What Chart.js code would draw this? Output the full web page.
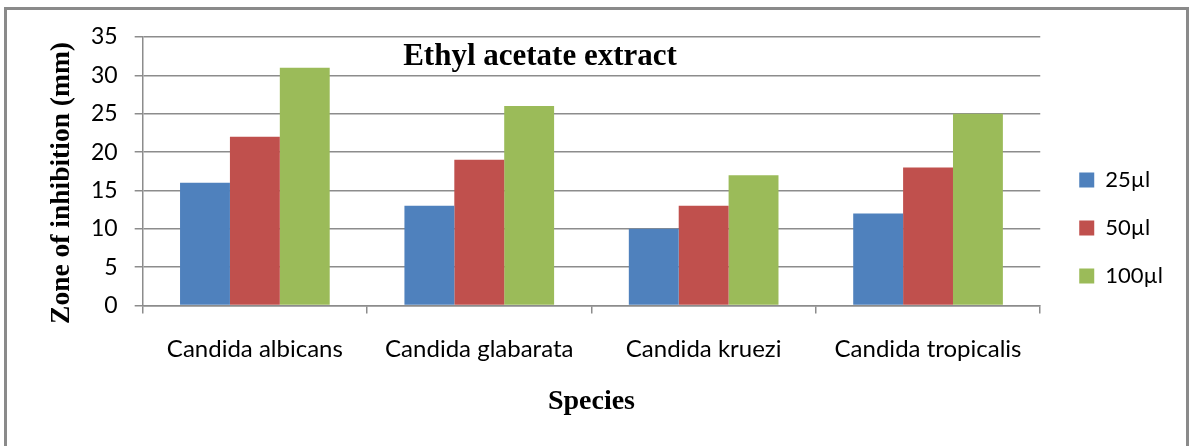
<!DOCTYPE html>
<html>
<head>
<meta charset="utf-8">
<script src="https://cdn.jsdelivr.net/npm/chart.js@4.4.0/dist/chart.umd.min.js"></script>
<style>
html,body{margin:0;padding:0;background:#fff;}
#wrap{position:relative;width:1190px;height:446px;}
</style>
</head>
<body>
<div id="wrap"><canvas id="c" width="1190" height="446"></canvas></div>
<script>
const categories = ["Candida albicans", "Candida glabarata", "Candida kruezi", "Candida tropicalis"];
const seriesNames = ["25\u00b5l", "50\u00b5l", "100\u00b5l"];
const vals25 = [16, 13, 10, 12];
const vals50 = [22, 19, 13, 18];
const vals100 = [31, 26, 17, 25];
const yTicks = [0, 5, 10, 15, 20, 25, 30, 35];
const chartTitle = "Ethyl acetate extract";
const xTitle = "Species";
const yTitle = "Zone of inhibition (mm)";

const colors = ["#4F81BD", "#C0504D", "#9BBB59"];
const gridColor = "#8c8c8c";

const framePlugin = {
  id: "frame",
  beforeDraw(chart) {
    const ctx = chart.ctx;
    ctx.save();
    ctx.fillStyle = "#fff";
    ctx.fillRect(0, 0, chart.width, chart.height);
    ctx.strokeStyle = "#8a8a8a";
    ctx.lineWidth = 3;
    ctx.strokeRect(5.5, 8.5, 1182, 500);
    ctx.restore();
  },
  afterDraw(chart) {
    const ctx = chart.ctx;
    ctx.save();
    ctx.fillStyle = "#000";
    ctx.font = "bold 31px 'Liberation Serif'";
    ctx.textAlign = "center";
    ctx.textBaseline = "alphabetic";
    ctx.fillText(chartTitle, 540, 65);
    ctx.translate(62, 183);
    ctx.rotate(-Math.PI / 2);
    ctx.font = "bold 27.5px 'Liberation Serif'";
    ctx.textBaseline = "middle";
    ctx.fillText(yTitle, 0, 0);
    ctx.restore();
  }
};

new Chart(document.getElementById("c"), {
  type: "bar",
  data: {
    labels: categories,
    datasets: [
      {label: seriesNames[0], data: vals25, backgroundColor: colors[0]},
      {label: seriesNames[1], data: vals50, backgroundColor: colors[1]},
      {label: seriesNames[2], data: vals100, backgroundColor: colors[2]}
    ]
  },
  options: {
    responsive: false,
    animation: false,
    devicePixelRatio: 1,
    datasets: {bar: {categoryPercentage: 0.667, barPercentage: 1.0}},
    layout: {padding: {left: 74, top: 37, right: 17, bottom: 27}},
    plugins: {
      legend: {
        position: "right",
        labels: {
          font: {family: "Lato", size: 22}, color: "#000",
          boxWidth: 15, boxHeight: 15, padding: 26
        }
      },
      title: {display: false},
      tooltip: {enabled: false}
    },
    scales: {
      x: {
        grid: {display: true, drawOnChartArea: false, drawTicks: true, tickLength: 8, color: gridColor, lineWidth: 1.5, offset: true},
        border: {display: true, color: gridColor, width: 1.5},
        ticks: {font: {family: "Lato", size: 24}, color: "#000", padding: 21, maxRotation: 0},
        title: {display: true, text: xTitle, color: "#000", font: {family: "'Liberation Serif'", weight: "bold", size: 28}, padding: {top: 1, bottom: 0}}
      },
      y: {
        min: 0, max: 35,
        afterBuildTicks(scale) { scale.ticks = yTicks.map(v => ({value: v})); },
        grid: {color: gridColor, lineWidth: 1.5, tickLength: 8},
        border: {display: true, color: gridColor, width: 1.5},
        ticks: {font: {family: "Lato", size: 23}, color: "#000", padding: 17}
      },
      gap: {
        position: "right",
        display: true,
        grid: {display: false},
        border: {display: false},
        ticks: {display: false},
        afterFit(scale) { scale.width = 13; }
      }
    }
  },
  plugins: [framePlugin]
});
</script>
</body>
</html>
